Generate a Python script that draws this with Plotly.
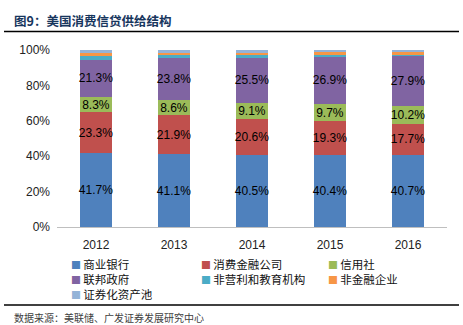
import plotly.graph_objects as go

years = ["2012", "2013", "2014", "2015", "2016"]

commercial_banks = [41.7, 41.1, 40.5, 40.4, 40.7]
finance_companies = [23.3, 21.9, 20.6, 19.3, 17.7]
credit_unions = [8.3, 8.6, 9.1, 9.7, 10.2]
federal_gov = [21.3, 23.8, 25.5, 26.9, 27.9]
nonprofit_edu = [2.0, 1.6, 1.2, 1.4, 1.2]
nonfinancial = [1.8, 1.3, 1.4, 1.0, 1.0]
securitized_pools = [1.6, 1.7, 1.7, 1.3, 1.3]

series_names = ["商业银行", "消费金融公司", "信用社", "联邦政府",
                "非营利和教育机构", "非金融企业", "证券化资产池"]
series_values = [commercial_banks, finance_companies, credit_unions, federal_gov,
                 nonprofit_edu, nonfinancial, securitized_pools]
series_colors = ["#4F81BD", "#C0504D", "#9BBB59", "#8064A2",
                 "#4BACC6", "#F79646", "#95B3D7"]
labelled = [True, True, True, True, False, False, False]

y_ticks = [0, 20, 40, 60, 80, 100]
y_ticktext = [f"{v}%" for v in y_ticks]

W, H = 463, 325
L, R, T, B = 57, 16, 50, 98
pw, ph = W - L - R, H - T - B


def px(x):
    return (x - L) / pw


def py(y):
    return (H - B - y) / ph


label_font = dict(family="Liberation Sans, Arial", size=12, color="#000000", shadow="none")

fig = go.Figure()
for name, vals, col, lab in zip(series_names, series_values, series_colors, labelled):
    fig.add_trace(go.Bar(
        x=years, y=vals, name=name, marker=dict(color=col, line=dict(width=0)),
        text=[f"{v:.1f}%" for v in vals] if lab else None,
        textposition="inside" if lab else "none",
        insidetextanchor="middle", textangle=0, constraintext="none",
        textfont=label_font, insidetextfont=label_font,
        cliponaxis=False, showlegend=False,
    ))

annotations = [
    dict(text="<b>图9：美国消费信贷供给结构</b>", x=px(12), y=py(20), xref="paper", yref="paper",
         xanchor="left", yanchor="middle", showarrow=False,
         font=dict(family="Noto Sans CJK SC", size=12.5, color="#17365D")),
    dict(text="数据来源：美联储、广发证券发展研究中心", x=px(12), y=py(317), xref="paper", yref="paper",
         xanchor="left", yanchor="middle", showarrow=False,
         font=dict(family="Noto Sans CJK SC", size=10, color="#404040")),
]

# legend grid: three columns
col_x = [69, 199, 326]
row_y = [263, 278, 293]
for i, (name, col) in enumerate(zip(series_names, series_colors)):
    cx, ry = col_x[i % 3], row_y[i // 3]
    annotations.append(dict(
        text=f"<span style='color:{col};font-size:10px'>■</span>\u2009{name}",
        x=px(cx), y=py(ry), xref="paper", yref="paper", xanchor="left", yanchor="middle",
        height=13, valign="middle",
        showarrow=False, font=dict(family="Noto Sans CJK SC", size=11.5, color="#111111")))

shapes = [
    dict(type="line", xref="paper", yref="paper", x0=px(4), x1=px(459), y0=py(31.5), y1=py(31.5),
         line=dict(color="#000000", width=1.5)),
    dict(type="line", xref="paper", yref="paper", x0=px(4), x1=px(459), y0=py(305), y1=py(305),
         line=dict(color="#000000", width=1.5)),
]

fig.update_layout(
    width=W, height=H, barmode="stack", bargap=0.6,
    margin=dict(l=L, r=R, t=T, b=B),
    paper_bgcolor="white", plot_bgcolor="white",
    annotations=annotations, shapes=shapes,
    xaxis=dict(showline=True, linecolor="#BFBFBF", linewidth=1, ticks="",
               ticklabelstandoff=7,
               tickfont=dict(family="Liberation Sans, Arial", size=12, color="#222222"),
               fixedrange=True),
    yaxis=dict(range=[0, 100], tickmode="array", tickvals=y_ticks, ticktext=y_ticktext,
               showgrid=False, zeroline=False, showline=False, ticklabelstandoff=6,
               tickfont=dict(family="Liberation Sans, Arial", size=12, color="#222222"),
               fixedrange=True),
)

fig.write_html("out.html")
